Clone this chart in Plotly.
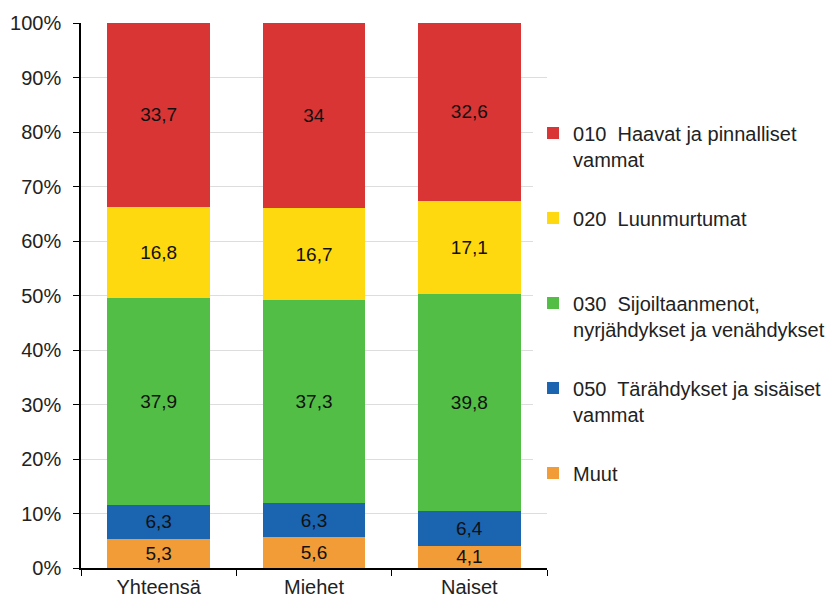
import plotly.graph_objects as go

# categories and shares (%)
groups = ["Yhteensä", "Miehet", "Naiset"]
series_names = [
    "Muut",
    "050  Tärähdykset ja sisäiset<br>vammat",
    "030  Sijoiltaanmenot,<br>nyrjähdykset ja venähdykset",
    "020  Luunmurtumat<br> ",
    "010  Haavat ja pinnalliset<br>vammat",
]
muut = [5.3, 5.6, 4.1]
tarahdykset = [6.3, 6.3, 6.4]
sijoiltaan = [37.9, 37.3, 39.8]
luunmurtumat = [16.8, 16.7, 17.1]
haavat = [33.7, 34.0, 32.6]
colors = ["#F29C38", "#1A64B0", "#52BE46", "#FFD90F", "#D93535"]

font = "Arial, Liberation Sans, sans-serif"

fig = go.Figure()
for i, (name, vals, col) in enumerate(zip(series_names,
                                          [muut, tarahdykset, sijoiltaan, luunmurtumat, haavat],
                                          colors)):
    fig.add_trace(go.Bar(
        x=groups, y=vals, name=name, marker_color=col, marker_line_width=0,
        text=[f"{v:g}".replace(".", ",") for v in vals],
        textposition="inside", insidetextanchor="middle",
        textfont=dict(color="#111111", size=19, family=font),
        constraintext="none",
        legendgroup=name, legendrank=len(series_names) - i,
    ))

# page body has an 8px margin, so margins are shifted by 8
fig.update_layout(
    barmode="stack", barnorm="percent", bargap=0.34,
    width=837, height=598,
    margin=dict(l=73, r=298, t=15, b=38),
    plot_bgcolor="white", paper_bgcolor="white",
    font=dict(family=font, size=20, color="#222222"),
    legend=dict(
        traceorder="grouped", x=0.97, xanchor="left", y=0.834, yanchor="top",
        valign="top", tracegroupgap=30, font=dict(size=20, color="#222222"),
        itemclick=False,
    ),
    showlegend=True,
)
fig.update_yaxes(
    range=[0, 100], dtick=10, ticksuffix="%", showgrid=True, gridcolor="#DDDDDD",
    showline=True, linecolor="black", linewidth=1.5, ticks="outside", ticklen=6,
    tickcolor="black", zeroline=False, automargin=False, ticklabelstandoff=8,
)
fig.update_xaxes(
    showline=True, linecolor="black", linewidth=1.5, ticks="outside", ticklen=6,
    tickcolor="black", tickson="boundaries", automargin=False,
)

fig.write_html("out.html")
